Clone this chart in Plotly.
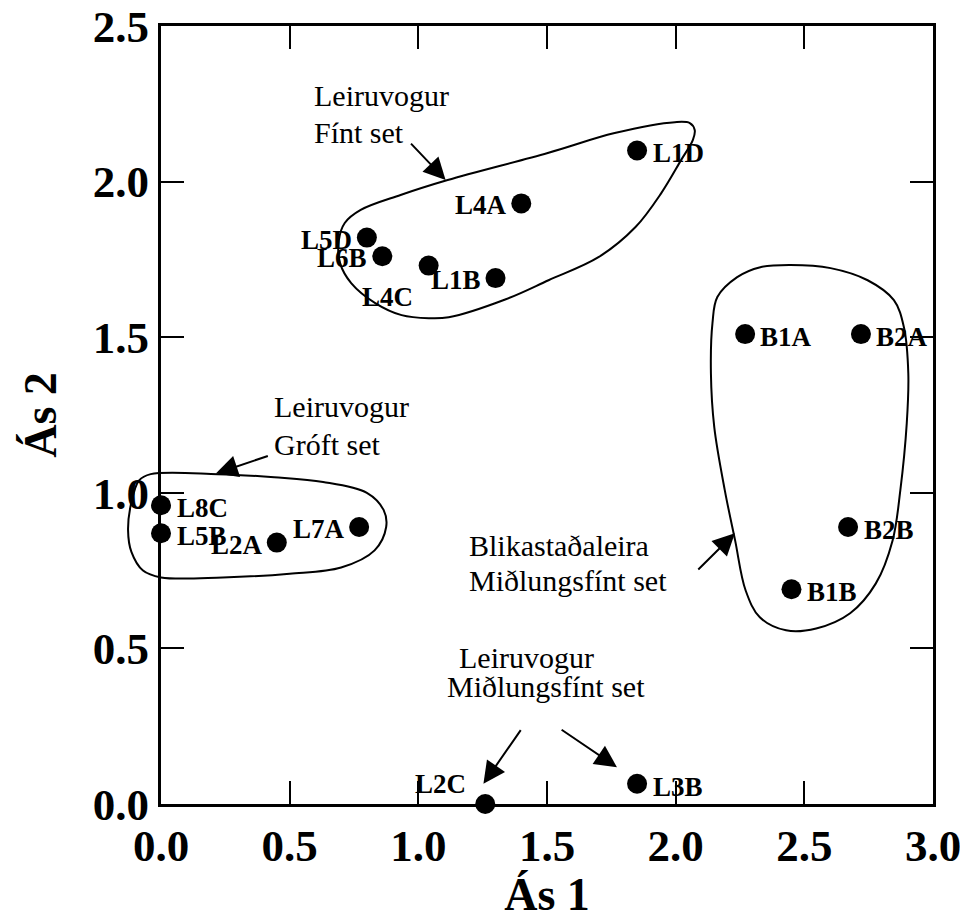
import plotly.graph_objects as go

# ---------------- data ----------------
SAMPLE_NAMES = ["L1D", "L4A", "L5D", "L6B", "L4C", "L1B",
                "B1A", "B2A", "B2B", "B1B",
                "L8C", "L5B", "L2A", "L7A",
                "L2C", "L3B"]
AS1 = [1.85, 1.40, 0.80, 0.86, 1.04, 1.30,
       2.27, 2.72, 2.67, 2.45,
       0.00, 0.00, 0.45, 0.77,
       1.26, 1.85]
AS2 = [2.10, 1.93, 1.82, 1.76, 1.73, 1.69,
       1.51, 1.51, 0.89, 0.69,
       0.96, 0.87, 0.84, 0.89,
       0.00, 0.065]
LABEL_SIDE = ["r", "l", "l", "l", "bl", "l",
              "r", "r", "r", "r",
              "r", "r", "l", "l",
              "tl", "r"]

# group outlines (data coordinates)
FINT_X = [0.691, 0.714, 0.776, 0.931, 1.114, 1.503, 1.763, 1.997, 2.055, 2.074, 2.067,
          2.021, 1.944, 1.844, 1.700, 1.506, 1.340, 1.118, 1.041, 0.935, 0.834, 0.739, 0.696, 0.691]
FINT_Y = [1.811, 1.867, 1.909, 1.957, 2.005, 2.092, 2.156, 2.191, 2.188, 2.166, 2.134,
          2.069, 1.963, 1.854, 1.757, 1.683, 1.622, 1.564, 1.561, 1.571, 1.609, 1.674, 1.738, 1.811]
GROFT_X = [0.22, 0.44, 0.63, 0.80, 0.865, 0.875, 0.83, 0.70, 0.50, 0.24, 0.0, -0.07,
           -0.115, -0.128, -0.115, -0.085, -0.04, 0.22]
GROFT_Y = [1.06, 1.05, 1.035, 1.0, 0.945, 0.89, 0.815, 0.76, 0.74, 0.728, 0.728, 0.75,
           0.81, 0.88, 0.97, 1.04, 1.06, 1.06]
BLIK_X = [2.137, 2.143, 2.162, 2.239, 2.329, 2.446, 2.602, 2.746, 2.848, 2.887, 2.904, 2.898,
          2.873, 2.843, 2.778, 2.678, 2.546, 2.429, 2.327, 2.272, 2.231, 2.191, 2.150, 2.137]
BLIK_Y = [1.384, 1.545, 1.629, 1.693, 1.725, 1.732, 1.722, 1.683, 1.619, 1.532, 1.384, 1.223,
          1.008, 0.847, 0.709, 0.613, 0.564, 0.558, 0.600, 0.686, 0.847, 1.008, 1.211, 1.384]

# group text lines
GROUP_TEXT = ["Leiruvogur", "Fínt set",
              "Leiruvogur", "Gróft set",
              "Blikastaðaleira", "Miðlungsfínt set",
              "Leiruvogur", "Miðlungsfínt set"]
GROUP_TX = [0.588, 0.588, 0.432, 0.432, 1.188, 1.188, 1.149, 1.102]
GROUP_TY = [2.278, 2.159, 1.278, 1.156, 0.831, 0.719, 0.471, 0.378]

# arrows: tail -> tip
ARROW_TAIL_X = [0.966, 0.421, 2.082, 1.402, 1.551]
ARROW_TAIL_Y = [2.127, 1.120, 0.749, 0.242, 0.242]
ARROW_TIP_X = [1.106, 0.213, 2.230, 1.253, 1.772]
ARROW_TIP_Y = [2.005, 1.062, 0.870, 0.065, 0.118]

TICKS = [0.0, 0.5, 1.0, 1.5, 2.0, 2.5, 3.0]
X_RANGE = [0, 3.0]
Y_RANGE = [0, 2.5]

# ---------------- layout geometry ----------------
# page body has an 8px margin, so the figure is 8px smaller than the window
W, H = 960, 912
ML, MR, MT, MB = 100, 35, 18, 116
AXIS_LEFT_PX = 153
plot_w = W - ML - MR
dom0 = (AXIS_LEFT_PX - ML) / plot_w
x2_low = X_RANGE[1] - (X_RANGE[1] - X_RANGE[0]) / (1 - dom0)

SERIF = "Liberation Serif, Times New Roman, serif"

fig = go.Figure()

# outlines on the wider hidden axis so they are not clipped at x=0
for ox, oy in [(FINT_X, FINT_Y), (GROFT_X, GROFT_Y), (BLIK_X, BLIK_Y)]:
    fig.add_trace(go.Scatter(x=ox, y=oy, xaxis="x2", yaxis="y", mode="lines",
                             line=dict(color="black", width=2, shape="spline", smoothing=1.0),
                             hoverinfo="skip", showlegend=False))

fig.add_trace(go.Scatter(x=AS1, y=AS2, mode="markers",
                         marker=dict(size=20, color="black"),
                         cliponaxis=False, showlegend=False, text=SAMPLE_NAMES))

shift = {"r": (41, -3), "l": (-40, -2), "bl": (-41, -31), "tl": (-45, 20)}
for name, xv, yv, side in zip(SAMPLE_NAMES, AS1, AS2, LABEL_SIDE):
    dx, dy = shift[side]
    fig.add_annotation(x=xv, y=yv, xref="x", yref="y", text=name, showarrow=False,
                       xshift=dx, yshift=dy, xanchor="center", yanchor="middle",
                       font=dict(family=SERIF, size=27, color="black", weight="bold"))

for t, xv, yv in zip(GROUP_TEXT, GROUP_TX, GROUP_TY):
    fig.add_annotation(x=xv, y=yv, xref="x", yref="y", text=t, showarrow=False,
                       xanchor="left", yanchor="middle",
                       font=dict(family=SERIF, size=30, color="black"))

for tx, ty, hx, hy in zip(ARROW_TAIL_X, ARROW_TAIL_Y, ARROW_TIP_X, ARROW_TIP_Y):
    fig.add_annotation(x=hx, y=hy, ax=tx, ay=ty, xref="x", yref="y", axref="x", ayref="y",
                       text="", showarrow=True, arrowhead=2, arrowsize=2.2,
                       arrowwidth=2, arrowcolor="black", standoff=0, startstandoff=0)

tickfont = dict(family=SERIF, size=45, color="black", weight="bold")
titlefont = dict(family=SERIF, size=46, color="black", weight="bold")

fig.update_layout(
    width=W, height=H,
    margin=dict(l=ML, r=MR, t=MT, b=MB, autoexpand=False),
    paper_bgcolor="white", plot_bgcolor="rgba(0,0,0,0)",
    xaxis=dict(domain=[dom0, 1], range=X_RANGE, tickvals=TICKS, tickformat=".1f",
               ticks="inside", ticklen=23, tickwidth=2, tickcolor="black",
               showline=True, linewidth=3, linecolor="black", mirror="ticks",
               showgrid=False, zeroline=False, tickfont=tickfont, automargin=False,
               ticklabeloverflow="allow",
               title=dict(text="Ás 1", font=titlefont, standoff=6)),
    xaxis2=dict(domain=[0, 1], range=[x2_low, X_RANGE[1]], anchor="y", visible=False,
                showgrid=False, zeroline=False, automargin=False),
    yaxis=dict(range=Y_RANGE, tickvals=TICKS[:6], tickformat=".1f", anchor="x",
               ticks="inside", ticklen=23, tickwidth=2, tickcolor="black",
               showline=True, linewidth=3, linecolor="black", mirror="ticks",
               showgrid=False, zeroline=False, tickfont=tickfont, automargin=False,
               ticklabeloverflow="allow",
               title=dict(text="Ás 2", font=titlefont, standoff=22)),
    showlegend=False,
)

fig.write_html("out.html")
